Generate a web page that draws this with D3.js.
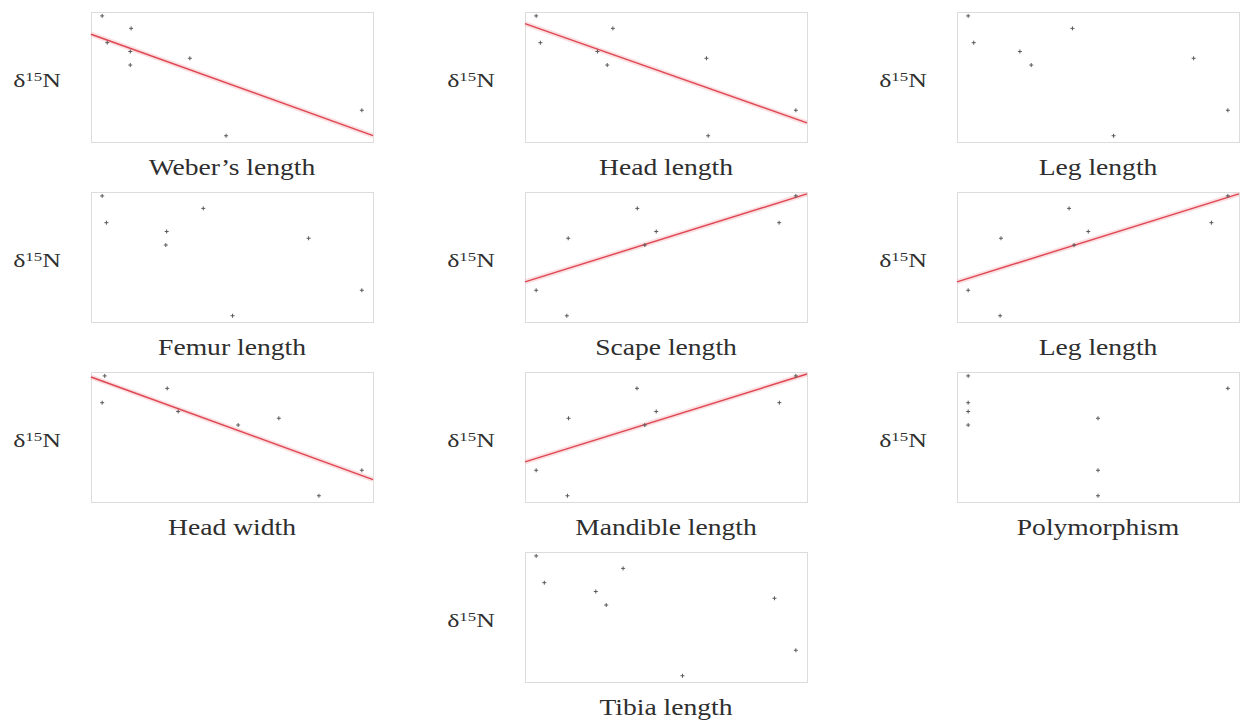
<!DOCTYPE html>
<html>
<head>
<meta charset="utf-8">
<script src="https://cdn.jsdelivr.net/npm/d3@7"></script>
<style>
	html, body { margin:0; padding:0; background:#fff; }
	#chart { width:1242px; height:722px; }
	.frame { fill:none; stroke:#dcdcdc; stroke-width:1; }
	.pt { fill:none; stroke:#5a5a5a; stroke-width:1; }
	.fit { fill:none; stroke:#dd4652; stroke-width:1.4; }
	.fit-halo { fill:none; stroke:#f7c4c9; stroke-width:5; opacity:0.55; }
	text { font-family:"Liberation Serif","Times New Roman",serif; fill:#2e2e2e; }
</style>
</head>
<body>
<div id="chart"></div>
<script>
/* data: 8 species, same d15N in every panel */
var species = ["sp1","sp2","sp3","sp4","sp5","sp6","sp7","sp8"];
var d15N = [7.85, 7.37, 6.82, 6.48, 6.22, 5.96, 4.22, 3.24];

/* trait values (relative scale) */
var weberLength    = [0.041, 0.144, 0.059, 0.141, 0.353, 0.141, 0.965, 0.482];
var headLength     = [0.041, 0.314, 0.056, 0.259, 0.647, 0.294, 0.965, 0.653];
var legLength      = [0.039, 0.414, 0.059, 0.225, 0.850, 0.266, 0.973, 0.562];
var femurLength    = [0.041, 0.400, 0.056, 0.270, 0.774, 0.267, 0.963, 0.504];
var scapeLength    = [0.968, 0.399, 0.908, 0.467, 0.151, 0.426, 0.036, 0.146];
var legLength2     = [0.973, 0.402, 0.914, 0.471, 0.157, 0.420, 0.039, 0.154];
var headWidth      = [0.044, 0.267, 0.035, 0.306, 0.665, 0.520, 0.961, 0.808];
var mandibleLength = [0.965, 0.396, 0.906, 0.465, 0.151, 0.424, 0.035, 0.147];
var polymorphism   = [1, 3, 1, 1, 2, 1, 2, 2];
var tibiaLength    = [0.039, 0.348, 0.068, 0.251, 0.886, 0.288, 0.962, 0.559];

var panelLabels = ["Weber\u2019s length","Head length","Leg length",
	"Femur length","Scape length","Leg length",
	"Head width","Mandible length","Polymorphism",
	"Tibia length"];
var panelTraits = [weberLength, headLength, legLength,
	femurLength, scapeLength, legLength2,
	headWidth, mandibleLength, polymorphism,
	tibiaLength];
var showFit = [true, true, false, false, true, true, true, true, false, false];
var yDomain = [3, 8];

/* layout */
var width = 1242, height = 722;
var colX = [91, 525, 957];
var rowY = [12, 192, 372, 552];
var boxW = 282, boxH = 130;
var cells = [[0,0],[0,1],[0,2],[1,0],[1,1],[1,2],[2,0],[2,1],[2,2],[3,1]];
var padFrac = 0.043;

var svg = d3.select("#chart").append("svg")
	.attr("width", width).attr("height", height);

var y = d3.scaleLinear().domain(yDomain).range([boxH, 0]);

function ols(xs, ys){
	var mx = d3.mean(xs), my = d3.mean(ys), sxy = 0, sxx = 0;
	xs.forEach(function(v,i){ sxy += (v-mx)*(ys[i]-my); sxx += (v-mx)*(v-mx); });
	var b = sxy/sxx;
	return {slope:b, icpt:my - b*mx};
}

panelTraits.forEach(function(trait, k){
	var r = cells[k][0], c = cells[k][1];
	var ext = d3.extent(trait), pad = (ext[1]-ext[0])*padFrac;
	var x = d3.scaleLinear().domain([ext[0]-pad, ext[1]+pad]).range([0, boxW]);
	var pts = trait.map(function(v,i){ return {x:v, y:d15N[i], sp:species[i]}; });

	var g = svg.append("g")
		.attr("transform", "translate(" + colX[c] + "," + rowY[r] + ")");

	g.append("rect").attr("class","frame")
		.attr("x",0.5).attr("y",0.5).attr("width",boxW).attr("height",boxH);

	if(showFit[k]){
		var f = ols(trait, d15N), dom = x.domain();
		var seg = dom.map(function(v){ return [x(v), y(f.icpt + f.slope*v)]; });
		g.append("path").attr("class","fit-halo").attr("d", d3.line()(seg));
		g.append("path").attr("class","fit").attr("d", d3.line()(seg));
	}

	g.selectAll(".pt").data(pts).enter().append("path")
		.attr("class","pt")
		.attr("transform", function(d){ return "translate(" + x(d.x) + "," + y(d.y) + ")"; })
		.attr("d", "M-2,0H2M0,-2V2");

	/* y label, stretched like the original */
	var yl = g.append("text")
		.attr("transform", "translate(-54," + (boxH/2 + 10) + ") scale(1.4,1)")
		.attr("text-anchor","middle")
		.style("font-size","18.5px");
	yl.append("tspan").text("\u03b4");
	yl.append("tspan").attr("dy",-6).style("font-size","12px").text("15");
	yl.append("tspan").attr("dy",6).text("N");

	g.append("text")
		.attr("transform", "translate(" + (boxW/2) + "," + (boxH + 33) + ") scale(1.2,1)")
		.attr("text-anchor","middle")
		.style("font-size","23px")
		.text(panelLabels[k]);
});
</script>
</body>
</html>
